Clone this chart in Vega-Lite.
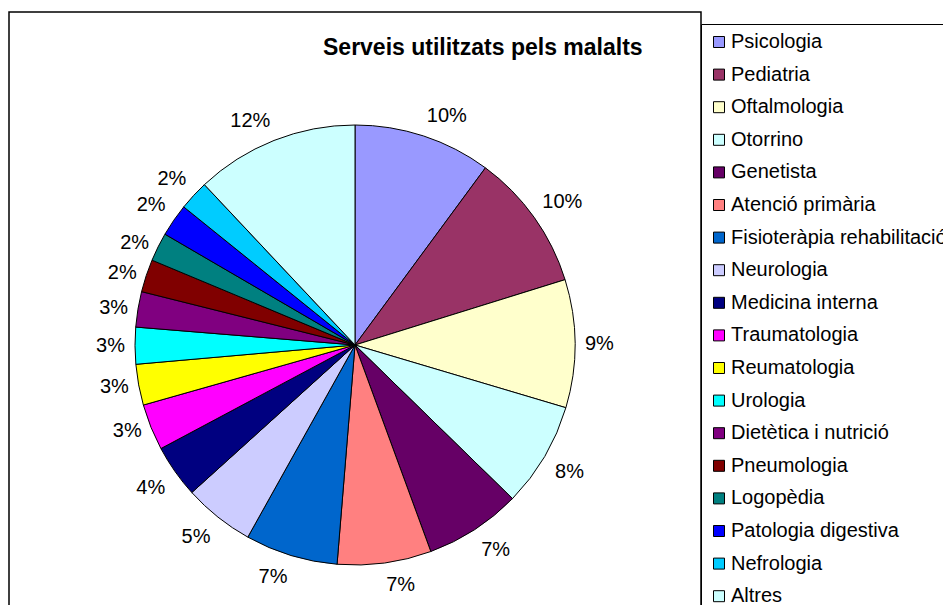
{
  "$schema": "https://vega.github.io/schema/vega-lite/v6.json",
  "autosize": "none",
  "padding": {"left": 9, "top": 12, "right": 242, "bottom": 0},
  "width": 692,
  "height": 666,
  "background": "white",
  "view": {"stroke": "black", "strokeWidth": 1.5},
  "title": {
    "text": "Serveis utilitzats pels malalts",
    "orient": "top",
    "anchor": "start",
    "frame": "group",
    "dx": 314,
    "offset": -48,
    "font": "Liberation Sans",
    "fontSize": 23,
    "fontWeight": "bold",
    "color": "black"
  },
  "data": {
    "values": [
      {"idx": 1, "servei": "Psicologia", "share": 0.101},
      {"idx": 2, "servei": "Pediatria", "share": 0.101},
      {"idx": 3, "servei": "Oftalmologia", "share": 0.094},
      {"idx": 4, "servei": "Otorrino", "share": 0.077},
      {"idx": 5, "servei": "Genetista", "share": 0.071},
      {"idx": 6, "servei": "Atenció primària", "share": 0.069},
      {"idx": 7, "servei": "Fisioteràpia rehabilitació", "share": 0.068},
      {"idx": 8, "servei": "Neurologia", "share": 0.052},
      {"idx": 9, "servei": "Medicina interna", "share": 0.039},
      {"idx": 10, "servei": "Traumatologia", "share": 0.034},
      {"idx": 11, "servei": "Reumatologia", "share": 0.030},
      {"idx": 12, "servei": "Urologia", "share": 0.027},
      {"idx": 13, "servei": "Dietètica i nutrició", "share": 0.026},
      {"idx": 14, "servei": "Pneumologia", "share": 0.024},
      {"idx": 15, "servei": "Logopèdia", "share": 0.021},
      {"idx": 16, "servei": "Patologia digestiva", "share": 0.024},
      {"idx": 17, "servei": "Nefrologia", "share": 0.022},
      {"idx": 18, "servei": "Altres", "share": 0.120}
    ]
  },
  "transform": [
    {"window": [{"op": "sum", "field": "share", "as": "cum"}], "sort": [{"field": "idx", "order": "ascending"}], "frame": [null, 0]},
    {"calculate": "datum.cum - datum.share / 2", "as": "mid"}
  ],
  "encoding": {
    "color": {
      "field": "servei",
      "type": "nominal",
      "sort": null,
      "scale": {
        "domain": ["Psicologia", "Pediatria", "Oftalmologia", "Otorrino", "Genetista", "Atenció primària", "Fisioteràpia rehabilitació", "Neurologia", "Medicina interna", "Traumatologia", "Reumatologia", "Urologia", "Dietètica i nutrició", "Pneumologia", "Logopèdia", "Patologia digestiva", "Nefrologia", "Altres"],
        "range": ["#9999FF", "#993366", "#FFFFCC", "#CCFFFF", "#660066", "#FF8080", "#0066CC", "#CCCCFF", "#000080", "#FF00FF", "#FFFF00", "#00FFFF", "#800080", "#800000", "#008080", "#0000FF", "#00CCFF", "#CCFFFF"]
      },
      "legend": {"title": null}
    }
  },
  "layer": [
    {
      "mark": {"type": "arc", "outerRadius": 220, "stroke": "black", "strokeWidth": 1, "opacity": 1},
      "encoding": {
        "theta": {"field": "share", "type": "quantitative", "stack": true, "scale": {"domain": [0, 1]}},
        "order": {"field": "idx", "type": "quantitative"}
      }
    },
    {
      "transform": [{"filter": "datum.mid < 0.1667"}],
      "mark": {"type": "text", "radius": 230, "align": "left", "baseline": "bottom", "font": "Liberation Sans", "fontSize": 20, "fill": "black"},
      "encoding": {"theta": {"field": "mid", "type": "quantitative", "stack": null, "scale": {"domain": [0, 1]}}, "text": {"field": "share", "type": "quantitative", "format": ".0%"}, "color": {"value": "black"}}
    },
    {
      "transform": [{"filter": "datum.mid >= 0.1667 && datum.mid < 0.3333"}],
      "mark": {"type": "text", "radius": 230, "align": "left", "baseline": "middle", "font": "Liberation Sans", "fontSize": 20, "fill": "black"},
      "encoding": {"theta": {"field": "mid", "type": "quantitative", "stack": null, "scale": {"domain": [0, 1]}}, "text": {"field": "share", "type": "quantitative", "format": ".0%"}, "color": {"value": "black"}}
    },
    {
      "transform": [{"filter": "datum.mid >= 0.3333 && datum.mid < 0.5"}],
      "mark": {"type": "text", "radius": 232, "align": "left", "baseline": "top", "font": "Liberation Sans", "fontSize": 20, "fill": "black"},
      "encoding": {"theta": {"field": "mid", "type": "quantitative", "stack": null, "scale": {"domain": [0, 1]}}, "text": {"field": "share", "type": "quantitative", "format": ".0%"}, "color": {"value": "black"}}
    },
    {
      "transform": [{"filter": "datum.mid >= 0.5 && datum.mid < 0.6667"}],
      "mark": {"type": "text", "radius": 232, "align": "right", "baseline": "top", "font": "Liberation Sans", "fontSize": 20, "fill": "black"},
      "encoding": {"theta": {"field": "mid", "type": "quantitative", "stack": null, "scale": {"domain": [0, 1]}}, "text": {"field": "share", "type": "quantitative", "format": ".0%"}, "color": {"value": "black"}}
    },
    {
      "transform": [{"filter": "datum.mid >= 0.6667 && datum.mid < 0.8333"}],
      "mark": {"type": "text", "radius": 230, "align": "right", "baseline": "middle", "font": "Liberation Sans", "fontSize": 20, "fill": "black"},
      "encoding": {"theta": {"field": "mid", "type": "quantitative", "stack": null, "scale": {"domain": [0, 1]}}, "text": {"field": "share", "type": "quantitative", "format": ".0%"}, "color": {"value": "black"}}
    },
    {
      "transform": [{"filter": "datum.mid >= 0.8333"}],
      "mark": {"type": "text", "radius": 230, "align": "right", "baseline": "bottom", "font": "Liberation Sans", "fontSize": 20, "fill": "black"},
      "encoding": {"theta": {"field": "mid", "type": "quantitative", "stack": null, "scale": {"domain": [0, 1]}}, "text": {"field": "share", "type": "quantitative", "format": ".0%"}, "color": {"value": "black"}}
    }
  ],
  "config": {
    "view": {"stroke": "black", "strokeWidth": 1.5},
    "legend": {
      "orient": "none",
      "legendX": 692,
      "legendY": 12,
      "strokeColor": "black",
      "strokeWidth": 1,
      "fillColor": "white",
      "padding": 8,
      "symbolType": "square",
      "symbolSize": 121,
      "symbolStrokeColor": "black",
      "symbolStrokeWidth": 1,
      "symbolOpacity": 1,
      "labelFont": "Liberation Sans",
      "labelFontSize": 20,
      "labelColor": "black",
      "labelOffset": 2,
      "labelLimit": 500,
      "rowPadding": 12.6
    }
  }
}
